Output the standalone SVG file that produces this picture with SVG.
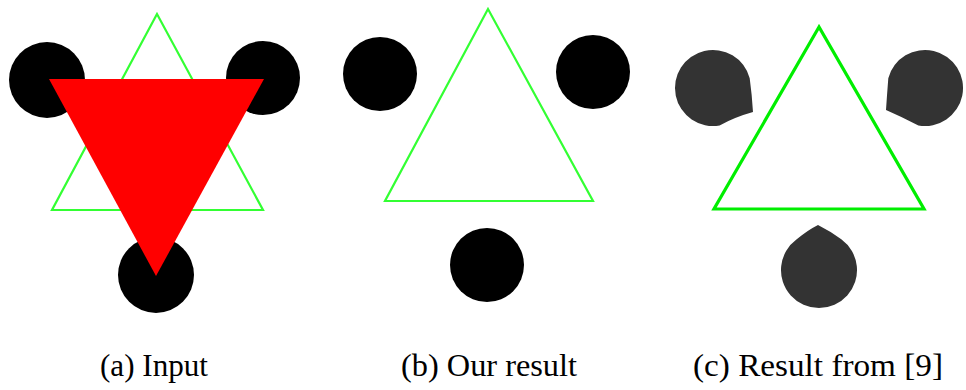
<svg xmlns="http://www.w3.org/2000/svg" width="966" height="390" viewBox="0 0 966 390">
<style>
.tri{fill:none;stroke:#33ff33;stroke-width:2.2;stroke-linejoin:miter}
.tri3{fill:none;stroke:#00ee00;stroke-width:3.2;stroke-linejoin:miter}
.dot{fill:#000}
.gdot{fill:#333}
text{font-family:"Liberation Serif",serif;font-size:32px;fill:#000}
</style>
<rect width="966" height="390" fill="#fff"/>
<g id="panel-a">
<polygon class="tri" points="157,14 52,210 263,210"/>
<circle class="dot" cx="47" cy="80" r="38"/>
<circle class="dot" cx="263" cy="78" r="37"/>
<circle class="dot" cx="156" cy="275" r="38"/>
<polygon fill="#ff0000" points="49,79 264,79 156,276"/>
</g>
<g id="panel-b">
<polygon class="tri" points="488,9 385,201 593,201"/>
<circle class="dot" cx="380" cy="74" r="37"/>
<circle class="dot" cx="593" cy="72" r="37"/>
<circle class="dot" cx="487" cy="265" r="37"/>
</g>
<g id="panel-c">
<polygon class="tri3" points="819,27 714,209 924,209"/>
<path class="gdot" d="M749.7 78.2 Q752 95 753 112 Q735 117 719.6 125.4 A38 38 0 1 1 749.7 78.2 Z"/>
<path class="gdot" d="M918.4 125.4 Q902 117 886 110 Q887 95 888.3 78.2 A38 38 0 1 1 918.4 125.4 Z"/>
<path class="gdot" d="M796.7 239.3 Q808 230 818 225 Q830 231 841.3 239.3 A38 38 0 1 1 796.7 239.3 Z"/>
</g>
<g id="captions">
<text font-family="Liberation Serif" x="100" y="376" textLength="108" lengthAdjust="spacingAndGlyphs">(a) Input</text>
<text font-family="Liberation Serif" x="401" y="376" textLength="176" lengthAdjust="spacingAndGlyphs">(b) Our result</text>
<text font-family="Liberation Serif" x="693" y="376" textLength="250" lengthAdjust="spacingAndGlyphs">(c) Result from [9]</text>
</g>
</svg>
